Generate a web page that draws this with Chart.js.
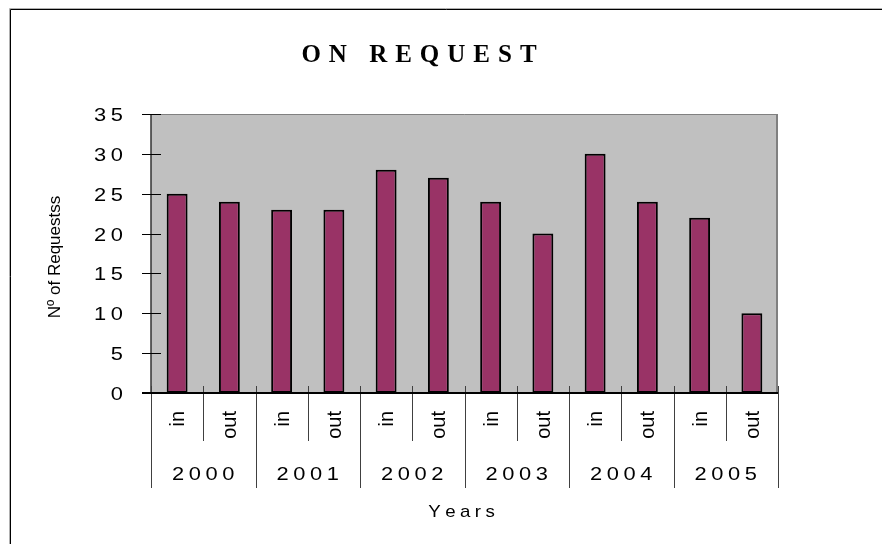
<!DOCTYPE html>
<html>
<head>
<meta charset="utf-8">
<script src="https://cdn.jsdelivr.net/npm/chart.js@4"></script>
<style>
  html, body { margin: 0; padding: 0; background: #ffffff; }
  canvas { display: block; }
</style>
</head>
<body>
<canvas id="chart" width="882" height="544"></canvas>
<script>
// Requests per year, split into incoming and outgoing
const years = ['2000', '2001', '2002', '2003', '2004', '2005'];
const directions = ['in', 'out'];
const requestsIn  = [25, 23, 28, 24, 30, 22];
const requestsOut = [24, 23, 27, 20, 24, 10];
const yTicks = [0, 5, 10, 15, 20, 25, 30, 35];

const titleText = 'ON REQUEST';
const yTitle = 'Nº of Requestss';
const xTitle = 'Years';

// Interleave in/out per year into one category list
const labels = [];
const values = [];
years.forEach((y, i) => {
  labels.push(directions[0]); values.push(requestsIn[i]);
  labels.push(directions[1]); values.push(requestsOut[i]);
});

function drawText(ctx, text, x, y, opts) {
  ctx.save();
  ctx.translate(x, y);
  if (opts.rotate) ctx.rotate(opts.rotate);
  ctx.scale(opts.sx || 1, 1);
  ctx.font = opts.font;
  ctx.fillStyle = opts.color || '#000';
  ctx.textAlign = opts.align || 'center';
  ctx.textBaseline = opts.baseline || 'alphabetic';
  const sp = opts.spacing || 0;
  if (!sp) {
    ctx.fillText(text, 0, 0);
  } else {
    // manual letter spacing
    const chars = [...text];
    let total = 0;
    const widths = chars.map(c => ctx.measureText(c).width);
    total = widths.reduce((a, b) => a + b, 0) + sp * (chars.length - 1);
    let start = 0;
    if (ctx.textAlign === 'center') start = -total / 2;
    else if (ctx.textAlign === 'right') start = -total;
    ctx.textAlign = 'left';
    let cx = start;
    chars.forEach((c, i) => { ctx.fillText(c, cx, 0); cx += widths[i] + sp; });
  }
  ctx.restore();
}

const frame = {
  id: 'frame',
  beforeDraw(chart) {
    const ctx = chart.ctx;
    const a = chart.chartArea;
    ctx.save();
    ctx.fillStyle = '#ffffff';
    ctx.fillRect(0, 0, chart.width, chart.height);
    // outer border (top and left edges)
    ctx.strokeStyle = '#b0b0b0';
    ctx.lineWidth = 1;
    ctx.beginPath();
    ctx.moveTo(9.5, chart.height); ctx.lineTo(9.5, 8.5); ctx.lineTo(chart.width, 8.5);
    ctx.stroke();
    ctx.strokeStyle = '#000';
    ctx.beginPath();
    ctx.moveTo(10.5, chart.height); ctx.lineTo(10.5, 9.5); ctx.lineTo(chart.width, 9.5);
    ctx.stroke();
    // plot background
    ctx.fillStyle = '#c0c0c0';
    ctx.fillRect(a.left, a.top, a.right - a.left, a.bottom - a.top);
    ctx.strokeStyle = '#808080';
    ctx.lineWidth = 1;
    ctx.beginPath();
    ctx.moveTo(a.left, a.top + 0.5); ctx.lineTo(a.right, a.top + 0.5);
    ctx.stroke();
    ctx.lineWidth = 2;
    ctx.beginPath();
    ctx.moveTo(a.right - 1, a.top); ctx.lineTo(a.right - 1, a.bottom);
    ctx.stroke();
    ctx.restore();
  },
  afterDatasetsDraw(chart) {
    const ctx = chart.ctx;
    const a = chart.chartArea;
    const xs = chart.scales.x;
    const ys = chart.scales.y;
    const n = labels.length;
    const step = (a.right - a.left) / n;
    const y0 = ys.getPixelForValue(0);
    ctx.save();
    // value axis line
    ctx.strokeStyle = '#333';
    ctx.lineWidth = 1.5;
    ctx.beginPath();
    ctx.moveTo(a.left, a.top); ctx.lineTo(a.left, y0);
    ctx.stroke();
    // value ticks and labels
    ctx.strokeStyle = '#000';
    ctx.lineWidth = 1;
    yTicks.forEach(v => {
      const py = Math.round(ys.getPixelForValue(v)) + 0.5;
      ctx.beginPath();
      ctx.moveTo(a.left - 9, py); ctx.lineTo(a.left + 10, py);
      ctx.stroke();
      drawText(ctx, String(v), a.left - 28, py + 1, {
        font: '19px "Liberation Sans", Arial, sans-serif', align: 'right',
        baseline: 'middle', spacing: 4, sx: 1.15
      });
    });
    // category boundaries
    ctx.strokeStyle = '#404040';
    ctx.lineWidth = 1;
    for (let i = 0; i <= n; i++) {
      const px = Math.round(a.left + i * step) + 0.5;
      ctx.beginPath();
      ctx.moveTo(px, y0 - 7);
      ctx.lineTo(px, i % 2 === 0 ? 488 : 441);
      ctx.stroke();
    }
    // category axis line
    ctx.strokeStyle = '#000';
    ctx.lineWidth = 2;
    ctx.beginPath();
    ctx.moveTo(a.left - 9, y0); ctx.lineTo(a.right, y0);
    ctx.stroke();
    // in/out labels
    labels.forEach((lab, i) => {
      const cx = xs.getPixelForValue(i);
      drawText(ctx, lab, cx + 7, 411, {
        font: '20px "Liberation Sans", Arial, sans-serif', align: 'right',
        baseline: 'alphabetic', rotate: -Math.PI / 2
      });
    });
    // year labels
    years.forEach((yr, k) => {
      const cx = (xs.getPixelForValue(2 * k) + xs.getPixelForValue(2 * k + 1)) / 2;
      drawText(ctx, yr, cx, 480, {
        font: '19px "Liberation Sans", Arial, sans-serif', align: 'center',
        spacing: 4, sx: 1.15
      });
    });
    // axis titles
    drawText(ctx, xTitle, (a.left + a.right) / 2 - 3, 517, {
      font: '17px "Liberation Sans", Arial, sans-serif', align: 'center', spacing: 4, sx: 1.1
    });
    drawText(ctx, yTitle, 60, 257, {
      font: '17px "Liberation Sans", Arial, sans-serif', align: 'center',
      rotate: -Math.PI / 2
    });
    // chart title
    drawText(ctx, titleText, 419, 62, {
      font: 'bold 25px "Liberation Serif", "Times New Roman", serif', align: 'center', spacing: 8
    });
    ctx.restore();
  }
};

new Chart(document.getElementById('chart'), {
  type: 'bar',
  data: {
    labels: labels,
    datasets: [{
      data: values,
      backgroundColor: '#993366',
      borderColor: '#000000',
      borderWidth: 2,
      borderSkipped: false,
      barPercentage: 0.4,
      categoryPercentage: 1.0
    }]
  },
  options: {
    responsive: false,
    animation: false,
    devicePixelRatio: 1,
    layout: { padding: { left: 151, top: 114, right: 104, bottom: 151 } },
    plugins: { legend: { display: false }, tooltip: { enabled: false }, title: { display: false } },
    scales: {
      x: { display: false, offset: true },
      y: { display: false, min: 0, max: 35, ticks: { stepSize: 5 } }
    }
  },
  plugins: [frame]
});
</script>
</body>
</html>
